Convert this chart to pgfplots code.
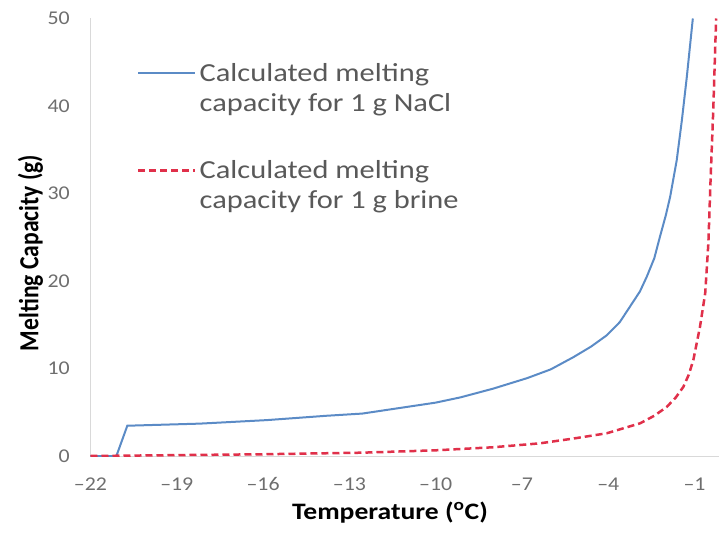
\documentclass[border=0pt]{standalone}
\usepackage{fontspec}
\setmainfont{Carlito}
\usepackage{graphicx}
\usepackage{pgfplots}
\pgfplotsset{compat=1.18}
\definecolor{ncl}{HTML}{5B8BC6}
\definecolor{brn}{HTML}{E0304A}
\definecolor{tickc}{HTML}{6E6E6E}
\definecolor{legc}{HTML}{595959}
\definecolor{axl}{HTML}{D9D9D9}
\newcommand{\sx}[1]{\scalebox{1.17}[1]{#1}}
\newcommand{\tx}[1]{\scalebox{1.12}[1]{#1}}
\begin{document}
\begin{tikzpicture}
\begin{axis}[
  scale only axis, width=628.5pt, height=437.5pt,
  at={(0,0)}, anchor=south west,
  xmin=-22, xmax=-0.15, ymin=0, ymax=50,
  axis x line*=bottom, axis y line*=left,
  axis line style={draw=axl, line width=1pt, -},
  xtick={-22,-19,-16,-13,-10,-7,-4,-1},
  xticklabels={\tx{–22},\tx{–19},\tx{–16},\tx{–13},\tx{–10},\tx{–7},\tx{–4},\tx{–1}},
  ytick={0,10,20,30,40,50},
  yticklabels={\tx{0},\tx{10},\tx{20},\tx{30},\tx{40},\tx{50}},
  major tick length=0pt,
  tick style={draw=none},
  xticklabel style={font=\fontsize{19.5}{20}\selectfont, text=tickc, inner sep=0pt, anchor=center, yshift=-28pt},
  yticklabel style={font=\fontsize{19.5}{20}\selectfont, text=tickc, inner sep=0pt, anchor=east, xshift=-20.5pt},
  xlabel={\sx{\textbf{Temperature (\textsuperscript{o}C)}}},
  ylabel={\scalebox{1}[1.17]{\textbf{Melting Capacity (g)}}},
  xlabel style={at={(axis description cs:0.4765,-0.130)}, anchor=center, font=\fontsize{23.6}{28}\selectfont, inner sep=0pt},
  ylabel style={at={(axis description cs:-0.0955,0.464)}, anchor=center, font=\fontsize{23.6}{28}\selectfont, inner sep=0pt},
  legend style={draw=none, fill=none, at={(axis description cs:0.074,0.898)}, anchor=north west,
    inner sep=0pt, row sep=48pt, column sep=3pt,
    font=\fontsize{26}{30}\selectfont, text=legc,
    nodes={inner sep=0pt, align=left}},
  legend cell align=left,
  legend image code/.code={\draw[#1] (0pt,15pt) -- (57pt,15pt);},
  clip=true,
]
\addplot[color=ncl, line width=2pt] coordinates {
(-22,0) (-21.1,0) (-20.72,3.46) (-18.2,3.7) (-15.88,4.1) (-13.79,4.6) (-12.55,4.85)
(-10,6.1) (-9.14,6.7) (-8,7.7) (-6.82,8.9) (-6.0,9.9) (-5.21,11.3) (-4.6,12.5) (-4.05,13.8)
(-3.6,15.3) (-3.24,17.1) (-2.9,18.8) (-2.66,20.5) (-2.4,22.6) (-2.20,25.1) (-2.0,27.5)
(-1.85,29.6) (-1.62,33.8) (-1.44,38.4) (-1.27,43.3) (-1.06,50)
};
\addlegendentry{\sx{Calculated melting}\\\sx{capacity for 1 g NaCl}}
\addplot[color=brn, line width=2.5pt, dash pattern=on 7pt off 4pt] coordinates {
(-22,0) (-19,0.1) (-16,0.2) (-12.55,0.38) (-10,0.65) (-8,1.0) (-6.37,1.45) (-5.2,2.0) (-4.05,2.6)
(-2.89,3.74) (-2.4,4.6) (-1.97,5.6) (-1.65,6.7) (-1.39,7.9) (-1.2,9.3) (-1.04,11) (-0.81,14.8)
(-0.63,18.6) (-0.52,24.3) (-0.44,31.9) (-0.35,39.5) (-0.25,50)
};
\addlegendentry{\sx{Calculated melting}\\\sx{capacity for 1 g brine}}
\end{axis}
\pgfresetboundingbox
\path (-90.5pt,-77pt) rectangle (628.5pt,456pt);
\end{tikzpicture}
\end{document}
